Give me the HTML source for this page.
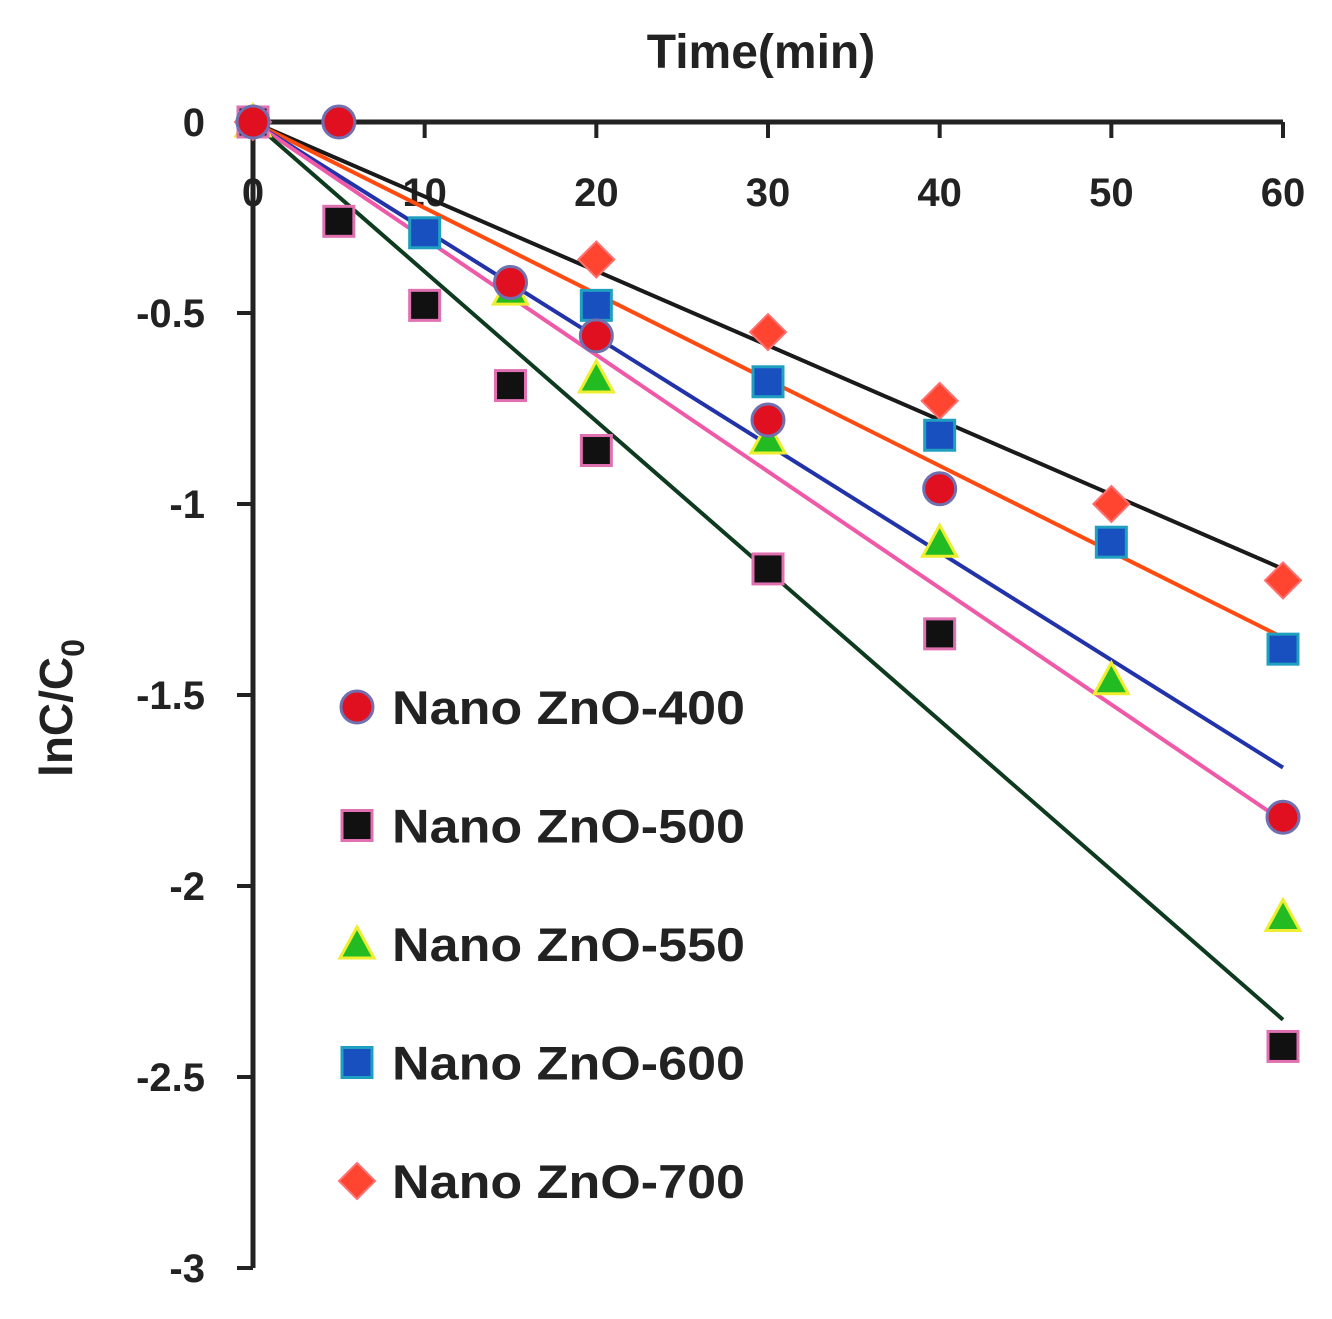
<!DOCTYPE html>
<html><head><meta charset="utf-8"><style>
html,body{margin:0;padding:0;background:#fff;}
svg{display:block;font-family:"Liberation Sans",Arial,sans-serif;font-weight:bold;}
</style></head><body>
<svg id="chart" width="1332" height="1319" viewBox="0 0 1332 1319">
<g id="axes"></g><g id="lines"></g><g id="marks"></g><g id="legend"></g>
</svg>
<script>
const xTicks=[0,10,20,30,40,50,60];
const yTicks=[0,-0.5,-1,-1.5,-2,-2.5,-3];
const yTickLabels=["0","-0.5","-1","-1.5","-2","-2.5","-3"];
const seriesNames=["Nano ZnO-400","Nano ZnO-500","Nano ZnO-550","Nano ZnO-600","Nano ZnO-700"];
const x400=[0,5,15,20,30,40,60];
const y400=[0,0,-0.42,-0.56,-0.78,-0.96,-1.82];
const x500=[0,5,10,15,20,30,40,60];
const y500=[0,-0.26,-0.48,-0.69,-0.86,-1.17,-1.34,-2.42];
const x550=[0,15,20,30,40,50,60];
const y550=[0,-0.44,-0.67,-0.83,-1.10,-1.46,-2.08];
const x600=[0,10,20,30,40,50,60];
const y600=[0,-0.29,-0.48,-0.68,-0.82,-1.10,-1.38];
const x700=[0,20,30,40,50,60];
const y700=[0,-0.36,-0.55,-0.73,-1.00,-1.20];
const fitEnds=[-1.17,-1.35,-1.69,-1.83,-2.35];
const fitColors=["#1a1a1a","#ff4a10","#2233aa","#ee5aa8","#0e3a1e"];
const fitNames=["fit-line-700","fit-line-600","fit-line-550","fit-line-400","fit-line-500"];
const NS="http://www.w3.org/2000/svg";
const X=v=>253+v*(1030/60);
const Y=v=>122-v*382;
function mk(tag,attrs,parent){const e=document.createElementNS(NS,tag);for(const k in attrs)e.setAttribute(k,attrs[k]);parent.appendChild(e);return e;}
const axes=document.getElementById('axes');
let e=mk('line',{x1:X(0),y1:Y(0),x2:X(60),y2:Y(0),stroke:'#222','stroke-width':5},axes);


e=mk('line',{x1:X(0),y1:Y(0),x2:X(0),y2:Y(-3),stroke:'#222','stroke-width':5},axes);


xTicks.forEach(t=>{
  let l=mk('line',{x1:X(t),y1:Y(0),x2:X(t),y2:Y(0)+16,stroke:'#222','stroke-width':4},axes);
  
  
  let tx=mk('text',{x:X(t),y:206,'text-anchor':'middle','font-size':40,fill:'#222'},axes);
  tx.textContent=String(t);
  
  
});
yTicks.forEach((t,i)=>{
  let l=mk('line',{x1:X(0)-16,y1:Y(t),x2:X(0),y2:Y(t),stroke:'#222','stroke-width':4},axes);
  
  
  let tx=mk('text',{x:205,y:Y(t)+14,'text-anchor':'end','font-size':40,fill:'#222'},axes);
  tx.textContent=yTickLabels[i];
  
  
});
let xt=mk('text',{x:761,y:68,'text-anchor':'middle','font-size':48,fill:'#222'},axes);
xt.textContent='Time(min)';


let yt=mk('text',{transform:'translate(72,708) rotate(-90)','text-anchor':'middle','font-size':46,fill:'#222'},axes);
yt.innerHTML='lnC/C<tspan font-size="32" dy="12">0</tspan>';


const lines=document.getElementById('lines');
fitEnds.forEach((v,i)=>{
  let l=mk('line',{x1:X(0),y1:Y(0),x2:X(60),y2:Y(v),stroke:fitColors[i],'stroke-width':4},lines);
  
  
});
function marker(kind,cx,cy,parent){
  let m;
  if(kind===0)m=mk('circle',{cx,cy,r:16,fill:'#e01020',stroke:'#7070b0','stroke-width':3},parent);
  else if(kind===1)m=mk('rect',{x:cx-15,y:cy-15,width:30,height:30,fill:'#111',stroke:'#e070b0','stroke-width':3},parent);
  else if(kind===2)m=mk('polygon',{points:`${cx},${cy-17} ${cx+17},${cy+14} ${cx-17},${cy+14}`,fill:'#22bb22',stroke:'#eeee30','stroke-width':3},parent);
  else if(kind===3)m=mk('rect',{x:cx-15,y:cy-15,width:30,height:30,fill:'#1850c0',stroke:'#20a0c0','stroke-width':3},parent);
  else m=mk('polygon',{points:`${cx},${cy-18} ${cx+18},${cy} ${cx},${cy+18} ${cx-18},${cy}`,fill:'#ff4530',stroke:'#ff7070','stroke-width':2},parent);
  return m;
}
const marks=document.getElementById('marks');
const XS=[x400,x500,x550,x600,x700],YS=[y400,y500,y550,y600,y700];
const mnames=["point-400","point-500","point-550","point-600","point-700"];
[4,3,2,1,0].forEach(k=>{
  XS[k].forEach((xv,j)=>{
    let m=marker(k,X(xv),Y(YS[k][j]),marks);
    
    
  });
});
const legend=document.getElementById('legend');
seriesNames.forEach((n,i)=>{
  const cy=707+i*118.5;
  let m=marker(i,357,cy,legend);
  
  
  let t=mk('text',{x:392,y:cy+17,'font-size':47,fill:'#222',textLength:353,lengthAdjust:'spacingAndGlyphs'},legend);
  t.textContent=n;
  
  
});
</script>
</body></html>
